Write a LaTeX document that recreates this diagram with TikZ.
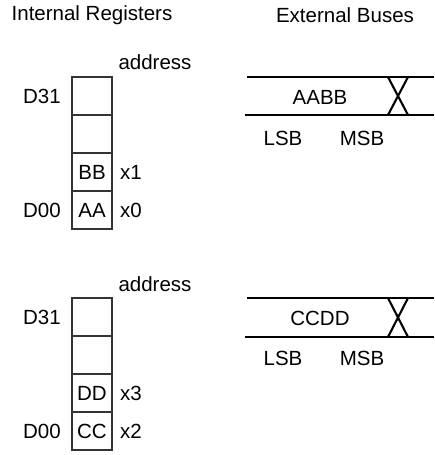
\documentclass[tikz,border=0pt]{standalone}
\usepackage{fontspec}
\setmainfont{Liberation Sans}
\usetikzlibrary{positioning}
\begin{document}
\begin{tikzpicture}[x=1pt,y=-1pt,
  font=\fontsize{20.5}{24}\selectfont,
  cell/.style={draw=black!80, line width=2.1pt, minimum width=40pt, minimum height=38pt, inner sep=0pt, outer sep=0pt, anchor=north west},
  lbl/.style={inner sep=0pt},
  bus/.style={line width=2.1pt}]
\useasboundingbox (0,0) rectangle (434,455);
\node[lbl] (t1) at (92,15) {Internal Registers};
\node[lbl] (t2) at (345,15) {External Buses};
% ---- block 1
\node[cell] (a3) at (72,77) {};
\node[cell] (a2) at (a3.south west) {};
\node[cell] (a1) at (a2.south west) {BB};
\node[cell] (a0) at (a1.south west) {AA};
\node[lbl] (ad1) at (155,62) {address};
\node[lbl, left=11pt of a3] (d31a) {D31};
\node[lbl, left=11pt of a0] (d00a) {D00};
\node[lbl, right=8pt of a1] (x1) {x1};
\node[lbl, right=8pt of a0] (x0) {x0};
% ---- bus 1
\coordinate (b1tl) at (247,77);
\coordinate (b1tr) at (434,77);
\coordinate (b1bl) at (245,115);
\coordinate (b1br) at (434,115);
\draw[bus] (b1tl) -- (b1tr);
\draw[bus] (b1bl) -- (b1br);
\coordinate (x1a) at (388,77);
\coordinate (x1b) at (408,115);
\coordinate (x1c) at (388,115);
\coordinate (x1d) at (408,77);
\draw[bus] (x1a) -- (x1b);
\draw[bus] (x1c) -- (x1d);
\node[lbl] (aabb) at (320,97) {AABB};
\node[lbl] (lsb1) at (283,138) {LSB};
\node[lbl] (msb1) at (362,138) {MSB};
% ---- block 2
\node[cell] (c3) at (72,298) {};
\node[cell] (c2) at (c3.south west) {};
\node[cell] (c1) at (c2.south west) {DD};
\node[cell] (c0) at (c1.south west) {CC};
\node[lbl] (ad2) at (155,284) {address};
\node[lbl, left=11pt of c3] (d31b) {D31};
\node[lbl, left=11pt of c0] (d00b) {D00};
\node[lbl, right=8pt of c1] (x3) {x3};
\node[lbl, right=8pt of c0] (x2) {x2};
% ---- bus 2
\coordinate (b2tl) at (247,298);
\coordinate (b2tr) at (434,298);
\coordinate (b2bl) at (245,337);
\coordinate (b2br) at (434,337);
\draw[bus] (b2tl) -- (b2tr);
\draw[bus] (b2bl) -- (b2br);
\coordinate (x2a) at (388,298);
\coordinate (x2b) at (408,337);
\coordinate (x2c) at (388,337);
\coordinate (x2d) at (408,298);
\draw[bus] (x2a) -- (x2b);
\draw[bus] (x2c) -- (x2d);
\node[lbl] (ccdd) at (320,318) {CCDD};
\node[lbl] (lsb2) at (283,358) {LSB};
\node[lbl] (msb2) at (362,358) {MSB};
\end{tikzpicture}
\end{document}
